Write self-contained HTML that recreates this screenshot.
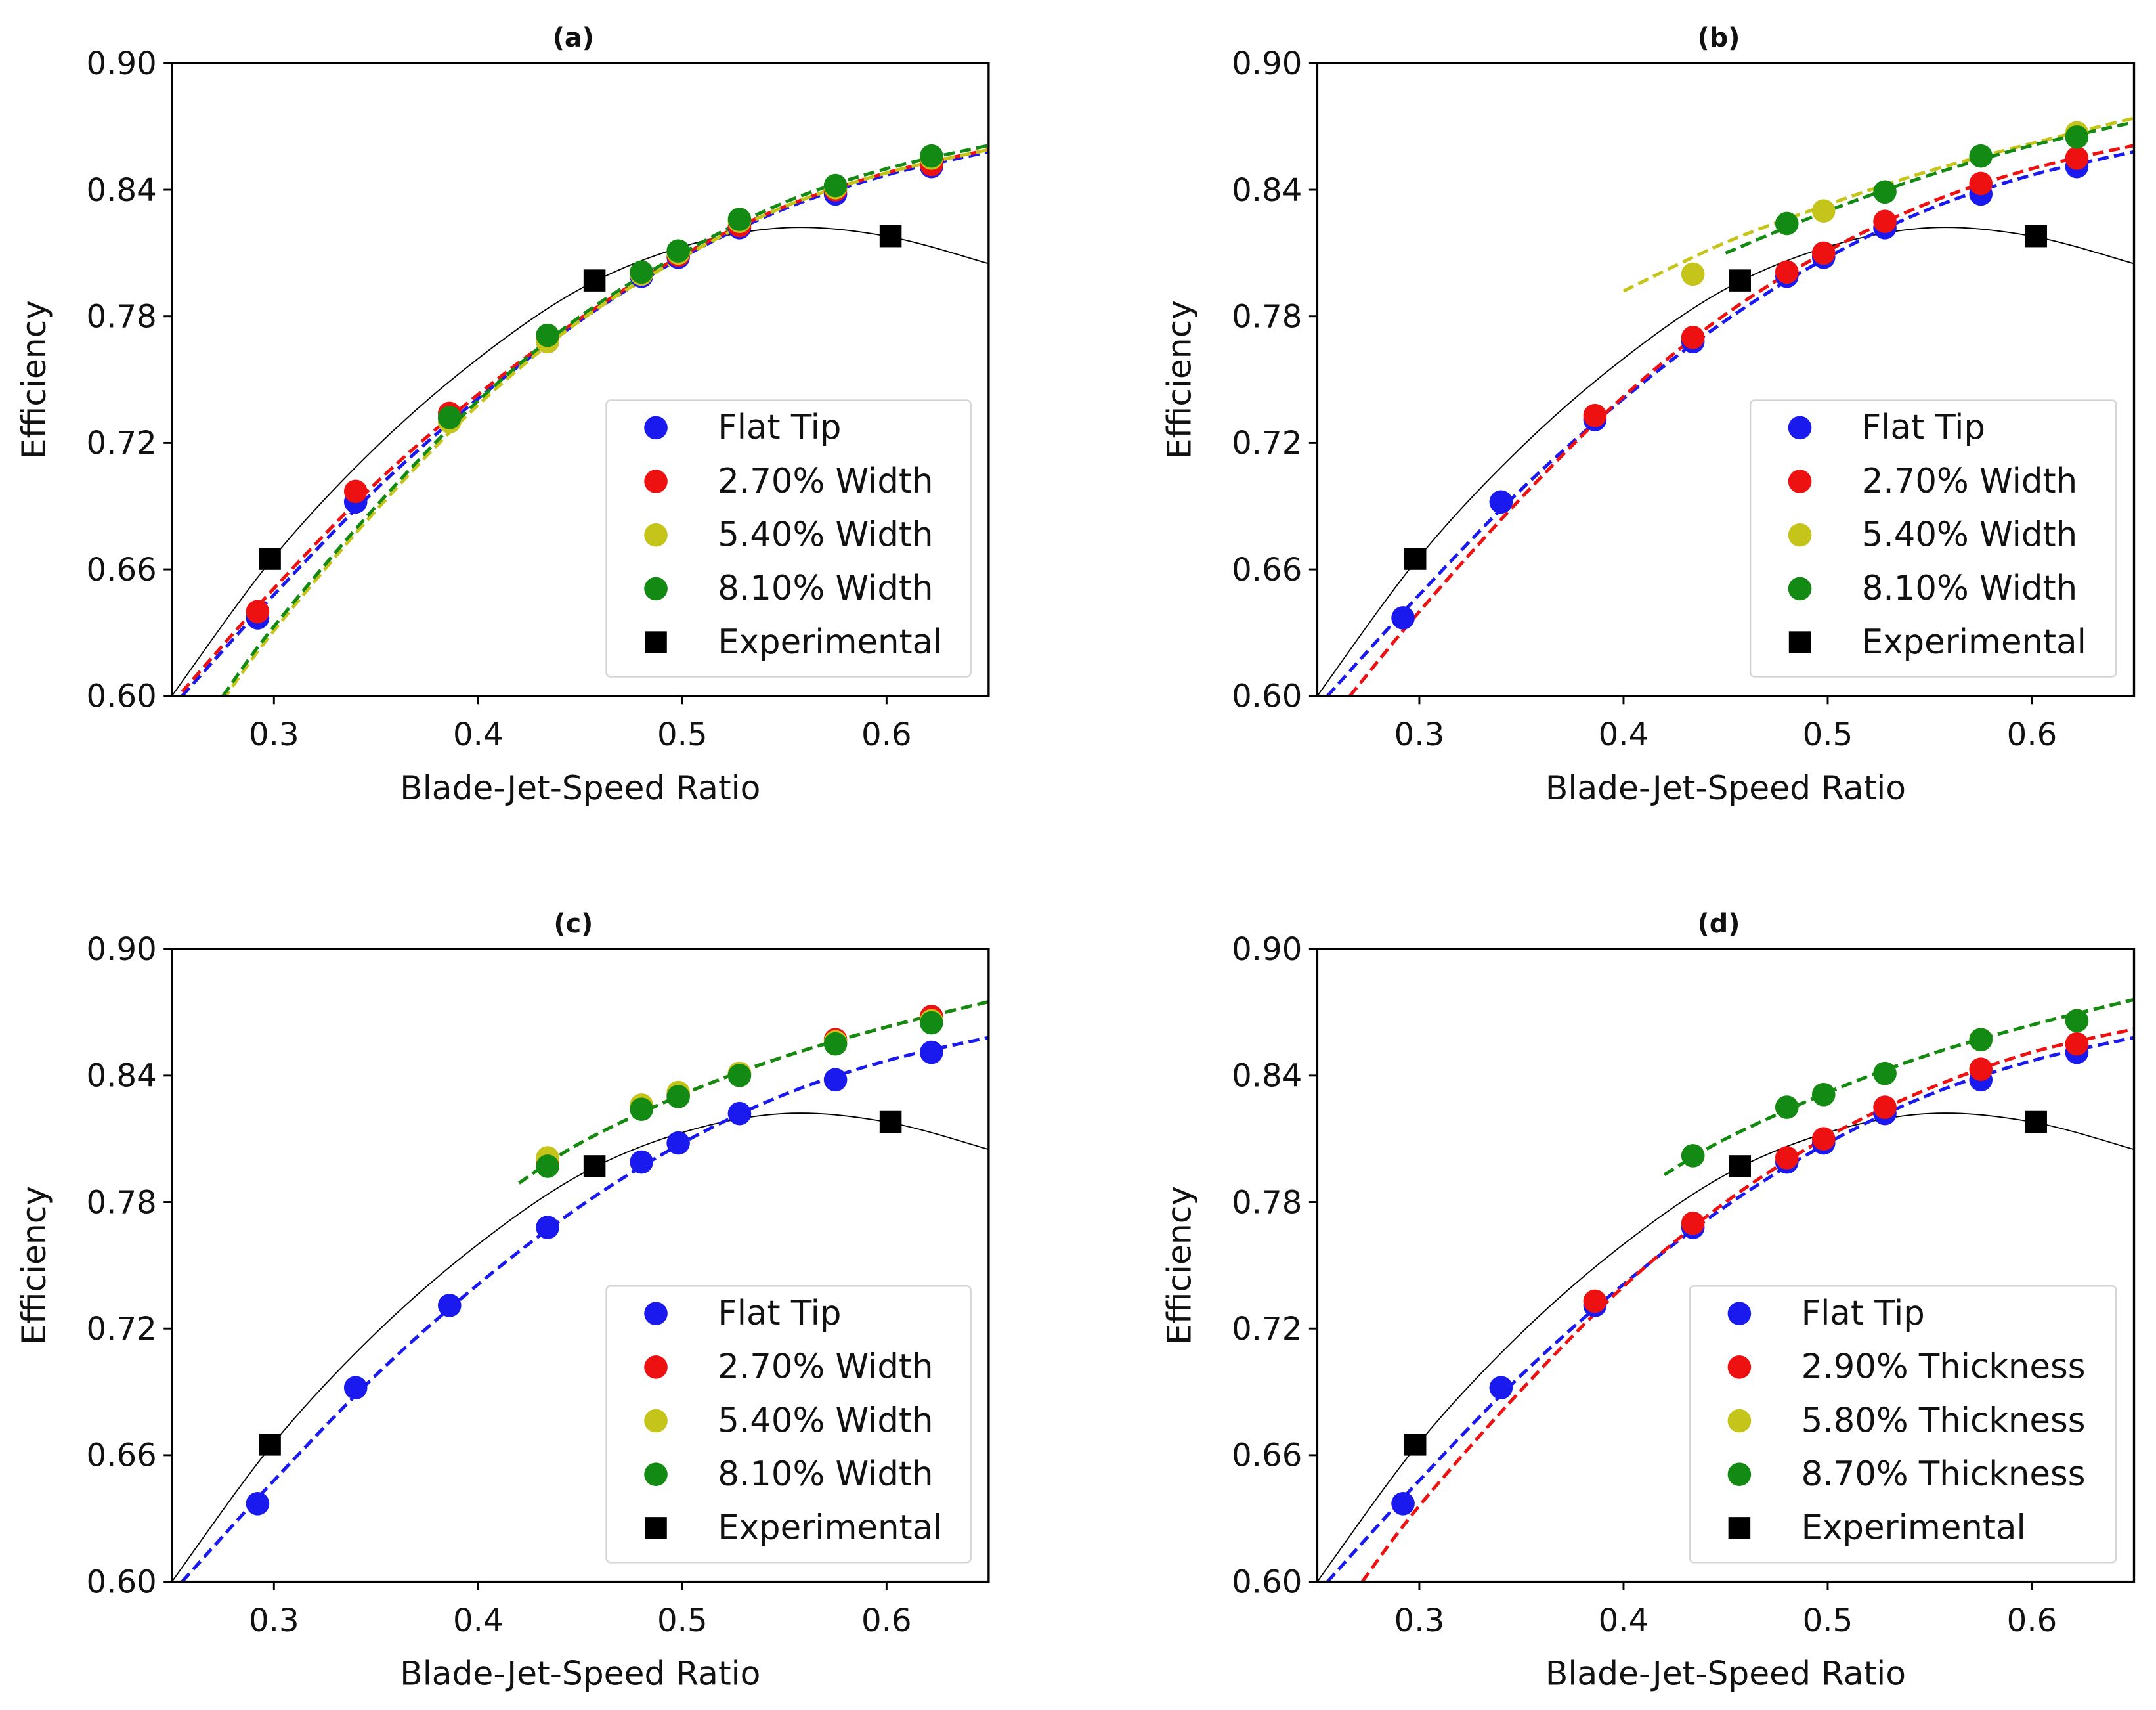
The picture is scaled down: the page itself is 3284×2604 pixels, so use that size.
<!DOCTYPE html>
<html><head><meta charset="utf-8"><style>
html,body{margin:0;padding:0;background:#fff;}
svg{display:block;font-family:"DejaVu Sans","Liberation Sans",sans-serif;}
</style></head>
<body>
<svg id="chart" width="3284" height="2604" viewBox="0 0 1568 1243.3" preserveAspectRatio="none" xmlns="http://www.w3.org/2000/svg"></svg>
<script>
// ---- data ----
const xTicks = [0.3, 0.4, 0.5, 0.6];
const yTicks = [0.60, 0.66, 0.72, 0.78, 0.84, 0.90];
const flatX = [0.292, 0.340, 0.386, 0.434, 0.480, 0.498, 0.528, 0.575, 0.622];
const flatY = [0.637, 0.692, 0.731, 0.768, 0.799, 0.808, 0.822, 0.838, 0.851];
const redAX = [0.292, 0.340, 0.386, 0.434, 0.480, 0.498, 0.528, 0.575, 0.622];
const redAY = [0.640, 0.697, 0.734, 0.769, 0.800, 0.809, 0.823, 0.840, 0.852];
const yelAX = [0.386, 0.434, 0.480, 0.498, 0.528, 0.575, 0.622];
const yelAY = [0.730, 0.768, 0.800, 0.810, 0.825, 0.841, 0.855];
const grnAX = [0.386, 0.434, 0.480, 0.498, 0.528, 0.575, 0.622];
const grnAY = [0.732, 0.771, 0.801, 0.811, 0.826, 0.842, 0.856];
const expX = [0.298, 0.457, 0.602];
const expY = [0.665, 0.797, 0.818];
const redBX = [0.386, 0.434, 0.480, 0.498, 0.528, 0.575, 0.622];
const redBY = [0.733, 0.770, 0.801, 0.810, 0.825, 0.843, 0.855];
const yelBX = [0.434, 0.498, 0.622];
const yelBY = [0.800, 0.830, 0.867];
const grnBX = [0.480, 0.528, 0.575, 0.622];
const grnBY = [0.824, 0.839, 0.856, 0.865];
const redCX = [0.434, 0.480, 0.498, 0.528, 0.575, 0.622];
const redCY = [0.799, 0.825, 0.831, 0.841, 0.857, 0.868];
const yelCX = [0.434, 0.480, 0.498, 0.528, 0.575, 0.622];
const yelCY = [0.801, 0.826, 0.832, 0.841, 0.856, 0.866];
const grnCX = [0.434, 0.480, 0.498, 0.528, 0.575, 0.622];
const grnCY = [0.797, 0.824, 0.830, 0.840, 0.855, 0.865];
const grnDX = [0.434, 0.480, 0.498, 0.528, 0.575, 0.622];
const grnDY = [0.802, 0.825, 0.831, 0.841, 0.857, 0.866];
// fitted curves
const expFitX = [0.25, 0.30, 0.35, 0.40, 0.45, 0.50, 0.55, 0.60, 0.65];
const expFitY = [0.600, 0.666, 0.718, 0.760, 0.793, 0.813, 0.822, 0.818, 0.805];
const blueFitX = [0.255, 0.30, 0.35, 0.40, 0.45, 0.50, 0.55, 0.60, 0.65];
const blueFitY = [0.600, 0.648, 0.698, 0.741, 0.778, 0.808, 0.831, 0.847, 0.858];
const redFitAY = [0.602, 0.651, 0.701, 0.743, 0.779, 0.809, 0.832, 0.848, 0.859];
const grnFitAX = [0.275, 0.30, 0.35, 0.40, 0.45, 0.50, 0.55, 0.60, 0.65];
const grnFitAY = [0.600, 0.633, 0.690, 0.740, 0.780, 0.810, 0.834, 0.850, 0.861];
const redFitBX = [0.266, 0.30, 0.35, 0.40, 0.45, 0.50, 0.55, 0.60, 0.65];
const redFitBY = [0.600, 0.640, 0.694, 0.742, 0.781, 0.811, 0.834, 0.850, 0.861];
const yelFitBX = [0.40, 0.45, 0.50, 0.55, 0.60, 0.65];
const yelFitBY = [0.792, 0.815, 0.833, 0.849, 0.862, 0.874];
const grnFitBX = [0.45, 0.50, 0.55, 0.60, 0.65];
const grnFitBY = [0.810, 0.830, 0.847, 0.861, 0.872];
const hiFitX = [0.42, 0.45, 0.50, 0.55, 0.60, 0.65];
const hiFitY = [0.789, 0.808, 0.831, 0.849, 0.863, 0.875];
const hiFitDY = [0.793, 0.810, 0.832, 0.850, 0.864, 0.876];
const redFitDX = [0.272, 0.30, 0.35, 0.40, 0.45, 0.50, 0.55, 0.60, 0.65];
const redFitDY = [0.600, 0.636, 0.691, 0.740, 0.780, 0.811, 0.834, 0.851, 0.862];

const BLUE = "#1a1aee", RED = "#ee1111", YEL = "#c4c41a", GRN = "#138a13";
const NS = "http://www.w3.org/2000/svg";
const svg = document.getElementById("chart");
function mk(tag, attrs, parent) {
  const e = document.createElementNS(NS, tag);
  for (const k in attrs) e.setAttribute(k, attrs[k]);
  (parent || svg).appendChild(e);
  return e;
}
function smoothPath(pts) {
  let d = "M" + pts[0][0] + "," + pts[0][1];
  for (let i = 0; i < pts.length - 1; i++) {
    const p0 = pts[Math.max(0, i - 1)], p1 = pts[i], p2 = pts[i + 1], p3 = pts[Math.min(pts.length - 1, i + 2)];
    const c1 = [p1[0] + (p2[0] - p0[0]) / 6, p1[1] + (p2[1] - p0[1]) / 6];
    const c2 = [p2[0] - (p3[0] - p1[0]) / 6, p2[1] - (p3[1] - p1[1]) / 6];
    d += " C" + c1 + " " + c2 + " " + p2;
  }
  return d;
}
function panel(cfg) {
  const L = cfg.L, R = cfg.R, T = cfg.T, B = cfg.B;
  const sx = v => L + (v - 0.25) / 0.40 * (R - L);
  const sy = v => B - (v - 0.60) / 0.30 * (B - T);
  const g = mk("g", {});
  
  
  const cid = "clip" + cfg.id;
  const cp = mk("clipPath", {id: cid}, g);
  mk("rect", {x: L, y: T, width: R - L, height: B - T}, cp);
  const plot = mk("g", {"clip-path": "url(#" + cid + ")"}, g);
  cfg.curves.forEach(c => {
    const pts = c.x.map((v, i) => [sx(v), sy(c.y[i])]);
    const p = mk("path", {d: smoothPath(pts), fill: "none", stroke: c.color,
      "stroke-width": c.dash ? 2.4 : 0.9, "stroke-dasharray": c.dash ? "8,4" : "none"}, plot);
    
    
  });
  cfg.points.forEach(s => {
    s.x.forEach((v, i) => {
      let m;
      if (s.square) m = mk("rect", {x: sx(v) - 8, y: sy(s.y[i]) - 8, width: 16, height: 16, fill: "#000"}, plot);
      else m = mk("circle", {cx: sx(v), cy: sy(s.y[i]), r: 8.5, fill: s.color}, plot);
      
      
    });
  });
  const fr = mk("rect", {x: L, y: T, width: R - L, height: B - T, fill: "none", stroke: "#000", "stroke-width": 1.6}, g);
  
  
  xTicks.forEach(v => {
    mk("line", {x1: sx(v), x2: sx(v), y1: B, y2: B + 6, stroke: "#000", "stroke-width": 1.4}, g);
    const t = mk("text", {x: sx(v), y: B + 36, "text-anchor": "middle", "font-size": 23, fill: "#111"}, g);
    t.textContent = v.toFixed(1);
    
    
  });
  yTicks.forEach(v => {
    mk("line", {x1: L - 6, x2: L, y1: sy(v), y2: sy(v), stroke: "#000", "stroke-width": 1.4}, g);
    const t = mk("text", {x: L - 11, y: sy(v) + 8, "text-anchor": "end", "font-size": 23, fill: "#111"}, g);
    t.textContent = v.toFixed(2);
    
    
  });
  const xl = mk("text", {x: (L + R) / 2, y: B + 75, "text-anchor": "middle", "font-size": 24, fill: "#111"}, g);
  xl.textContent = "Blade-Jet-Speed Ratio";
  
  
  const yl = mk("text", {x: 0, y: 0, "text-anchor": "middle", "font-size": 24, fill: "#111",
    transform: "translate(" + (L - 92) + "," + (T + B) / 2 + ") rotate(-90)"}, g);
  yl.textContent = "Efficiency";
  
  
  const tt = mk("text", {x: (L + R) / 2 - 5, y: T - 12, "text-anchor": "middle", "font-size": 19, "font-weight": "bold", fill: "#111"}, g);
  tt.textContent = "(" + cfg.id + ")";
  
  
  const lg = mk("g", {}, g);
  
  
  const lx = cfg.legX, ly = T + 245;
  mk("rect", {x: lx, y: ly, width: R - 13 - lx, height: 201, rx: 3, fill: "#fff", "fill-opacity": 0.85, stroke: "#d6d6d6", "stroke-width": 1.2}, lg);
  cfg.legend.forEach((e, i) => {
    const cy = ly + 20 + i * 39;
    let m;
    if (e.square) m = mk("rect", {x: lx + 28, y: cy - 8, width: 16, height: 16, fill: "#000"}, lg);
    else m = mk("circle", {cx: lx + 36, cy: cy, r: 8.5, fill: e.color}, lg);
    
    
    const t = mk("text", {x: lx + 81, y: cy + 8, "font-size": 24.5, fill: "#111"}, lg);
    t.textContent = e.label;
    
    
  });
}
const widthLegend = [
  {label: "Flat Tip", color: BLUE}, {label: "2.70% Width", color: RED},
  {label: "5.40% Width", color: YEL}, {label: "8.10% Width", color: GRN},
  {label: "Experimental", square: true}];
const thickLegend = [
  {label: "Flat Tip", color: BLUE}, {label: "2.90% Thickness", color: RED},
  {label: "5.80% Thickness", color: YEL}, {label: "8.70% Thickness", color: GRN},
  {label: "Experimental", square: true}];
const expCurve = {name: "experimental-fit", x: expFitX, y: expFitY, color: "#000"};
const expPts = {name: "experimental", x: expX, y: expY, square: true};
panel({id: "a", L: 125, R: 719, T: 46, B: 506, legX: 441, legend: widthLegend,
  curves: [expCurve,
    {name: "flat-tip-fit", x: blueFitX, y: blueFitY, color: BLUE, dash: 1},
    {name: "red-fit", x: blueFitX, y: redFitAY, color: RED, dash: 1},
    {name: "yellow-fit", x: grnFitAX, y: grnFitAY.map(v => v - 0.002), color: YEL, dash: 1},
    {name: "green-fit", x: grnFitAX, y: grnFitAY, color: GRN, dash: 1}],
  points: [{name: "flat-tip", x: flatX, y: flatY, color: BLUE},
    {name: "width-2-70", x: redAX, y: redAY, color: RED},
    {name: "width-5-40", x: yelAX, y: yelAY, color: YEL},
    {name: "width-8-10", x: grnAX, y: grnAY, color: GRN}, expPts]});
panel({id: "b", L: 958, R: 1552, T: 46, B: 506, legX: 1273, legend: widthLegend,
  curves: [expCurve,
    {name: "flat-tip-fit", x: blueFitX, y: blueFitY, color: BLUE, dash: 1},
    {name: "red-fit", x: redFitBX, y: redFitBY, color: RED, dash: 1},
    {name: "yellow-fit", x: yelFitBX, y: yelFitBY, color: YEL, dash: 1},
    {name: "green-fit", x: grnFitBX, y: grnFitBY, color: GRN, dash: 1}],
  points: [{name: "flat-tip", x: flatX, y: flatY, color: BLUE},
    {name: "width-2-70", x: redBX, y: redBY, color: RED},
    {name: "width-5-40", x: yelBX, y: yelBY, color: YEL},
    {name: "width-8-10", x: grnBX, y: grnBY, color: GRN}, expPts]});
panel({id: "c", L: 125, R: 719, T: 690, B: 1150, legX: 441, legend: widthLegend,
  curves: [expCurve,
    {name: "flat-tip-fit", x: blueFitX, y: blueFitY, color: BLUE, dash: 1},
    {name: "red-fit", x: hiFitX, y: hiFitY, color: RED, dash: 1},
    {name: "yellow-fit", x: hiFitX, y: hiFitY, color: YEL, dash: 1},
    {name: "green-fit", x: hiFitX, y: hiFitY, color: GRN, dash: 1}],
  points: [{name: "flat-tip", x: flatX, y: flatY, color: BLUE},
    {name: "width-2-70", x: redCX, y: redCY, color: RED},
    {name: "width-5-40", x: yelCX, y: yelCY, color: YEL},
    {name: "width-8-10", x: grnCX, y: grnCY, color: GRN}, expPts]});
panel({id: "d", L: 958, R: 1552, T: 690, B: 1150, legX: 1229, legend: thickLegend,
  curves: [expCurve,
    {name: "flat-tip-fit", x: blueFitX, y: blueFitY, color: BLUE, dash: 1},
    {name: "red-fit", x: redFitDX, y: redFitDY, color: RED, dash: 1},
    {name: "yellow-fit", x: hiFitX, y: hiFitDY, color: YEL, dash: 1},
    {name: "green-fit", x: hiFitX, y: hiFitDY, color: GRN, dash: 1}],
  points: [{name: "flat-tip", x: flatX, y: flatY, color: BLUE},
    {name: "thickness-2-90", x: redBX, y: redBY, color: RED},
    {name: "thickness-5-80", x: grnDX, y: grnDY, color: YEL},
    {name: "thickness-8-70", x: grnDX, y: grnDY, color: GRN}, expPts]});
</script>
</body></html>
